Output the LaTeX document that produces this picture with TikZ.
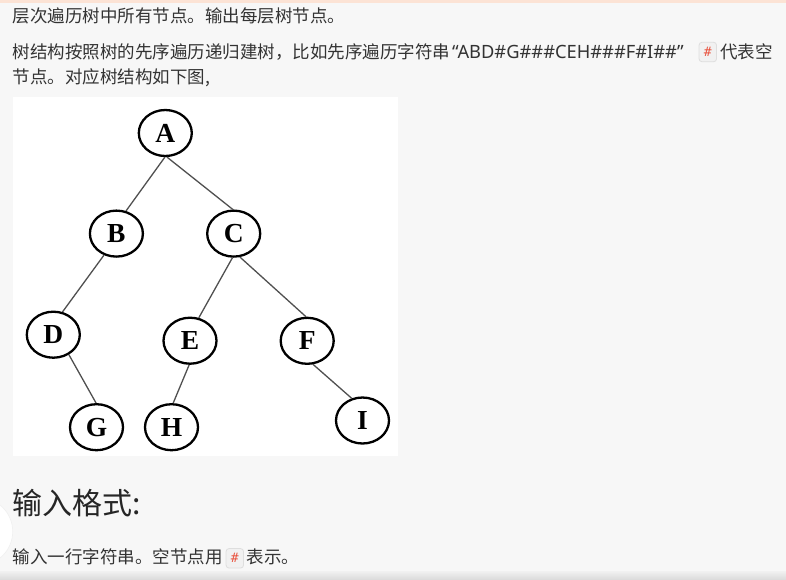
\documentclass[tikz,border=0pt]{standalone}
\usepackage{fontspec}
\setmainfont{Noto Sans CJK SC}
\newfontfamily\latinfont{Noto Sans}
\newfontfamily\treefont{Liberation Serif}
\newfontfamily\codefont{DejaVu Sans Mono}
\usetikzlibrary{shapes.geometric}
\definecolor{pagebg}{HTML}{F7F7F7}
\definecolor{bodytext}{HTML}{333333}
\definecolor{headtext}{HTML}{262626}
\definecolor{topband}{HTML}{FCE3D5}
\definecolor{edgegray}{HTML}{505050}
\definecolor{codebg}{HTML}{F1F1F1}
\definecolor{codeborder}{HTML}{DEDEDE}
\definecolor{codered}{HTML}{E9533F}
\definecolor{bottomtop}{HTML}{F0F0F0}
\definecolor{bottombot}{HTML}{DCDCDC}
\begin{document}
\begin{tikzpicture}[x=1pt,y=-1pt,
  treenode/.style={ellipse, draw=black, line width=2.3pt, fill=white,
    minimum width=53pt, minimum height=46pt, inner sep=0pt,
    font=\treefont\bfseries\fontsize{27.5}{27.5}\selectfont},
  treeedge/.style={draw=edgegray, line width=1.3pt},
  bodyline/.style={anchor=base west, inner sep=0pt, text=bodytext,
    font=\fontsize{17.5}{20}\selectfont},
  codebox/.style={draw=codeborder, fill=codebg, rounded corners=3pt,
    line width=0.8pt, inner sep=0pt, minimum width=17.5pt, minimum height=19.5pt,
    text=codered, font=\codefont\fontsize{13}{13}\selectfont}]
\useasboundingbox (0,0) rectangle (786,579);
% page background
\fill[pagebg] (0,0) rectangle (786,579);
\fill[topband] (0,0) rectangle (786,3.3);
\shade[top color=bottomtop, bottom color=bottombot] (0,571.5) rectangle (786,579);
\fill[white, draw=black!6, line width=0.6pt] (-21.3,531.5) circle (34);
% text
\node[bodyline] (t1) at (12.5,22) {层次遍历树中所有节点。输出每层树节点。};
\node[bodyline] (t2a) at (12.5,58) {树结构按照树的先序遍历递归建树，比如先序遍历字符串};
\node[bodyline, font=\latinfont\fontsize{18.3}{20}\selectfont] (t2b) at (452,58) {“ABD\#G\#\#\#CEH\#\#\#F\#I\#\#”};
\node[codebox] (hash1) at (707.8,52) {\#};
\node[bodyline] (t2c) at (720,58) {代表空};
\node[bodyline] (t3) at (12.5,83) {节点。对应树结构如下图,};
\node[anchor=base west, inner sep=0pt, text=headtext, font=\fontsize{30}{34}\selectfont] (head) at (12,514) {输入格式:};
\node[bodyline] (t4a) at (12.5,563) {输入一行字符串。空节点用};
\node[codebox] (hash2) at (234.8,558.3) {\#};
\node[bodyline] (t4b) at (246.5,563) {表示。};
% tree picture
\fill[white] (13,97) rectangle (398,456);
\node[treenode] (A) at (165.3,133) {A};
\node[treenode] (B) at (116.4,233.6) {B};
\node[treenode] (C) at (233.7,233.6) {C};
\node[treenode] (D) at (53.3,334.7) {D};
\node[treenode] (E) at (190,340.7) {E};
\node[treenode] (F) at (307.2,340.8) {F};
\node[treenode] (G) at (96.5,427.2) {G};
\node[treenode] (H) at (171.5,427.2) {H};
\node[treenode] (I) at (362.5,420.5) {I};
\draw[treeedge] (A.-91) -- (B.67);
\draw[treeedge] (A.-86) -- (C.92);
\draw[treeedge] (B.-120) -- (D.68);
\draw[treeedge] (C.-93) -- (E.69);
\draw[treeedge] (C.-75) -- (F.93);
\draw[treeedge] (D.-52) -- (G.91);
\draw[treeedge] (E.-92) -- (H.86);
\draw[treeedge] (F.-76) -- (I.116);
\end{tikzpicture}
\end{document}
